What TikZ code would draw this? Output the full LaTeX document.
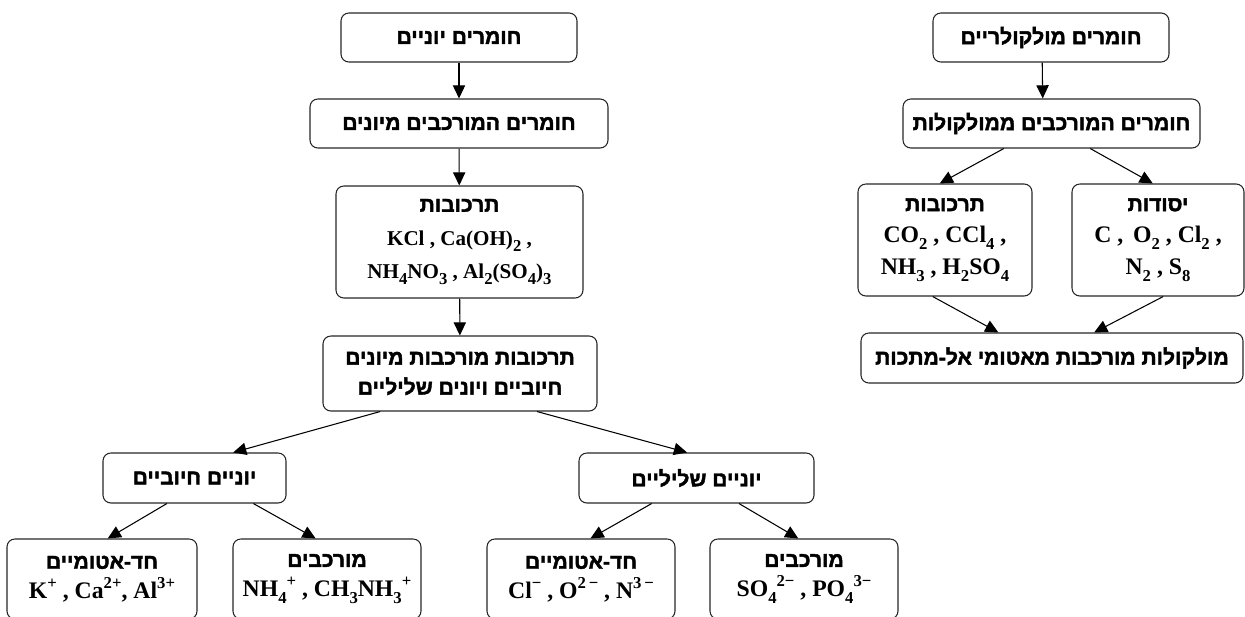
\documentclass[tikz,border=0pt]{standalone}
\usepackage{fontspec}
\setmainfont{Liberation Serif}
\newfontfamily\hebfont[Script=Hebrew, FakeBold=2]{Liberation Sans}
\TeXXeTstate=1
\newcommand{\hebr}[1]{{\hebfont\fontsize{12}{17}\selectfont\beginR #1\endR}}
\newcommand{\lo}[1]{\raisebox{-0.3em}{\fontsize{9.5}{9.5}\selectfont #1}}
\newcommand{\hi}[1]{\raisebox{0.42em}{\fontsize{9.5}{9.5}\selectfont #1}}
\usetikzlibrary{arrows.meta,calc}

\begin{document}
\begin{tikzpicture}[x=0.02cm, y=-0.02cm,
  box/.style={draw=black!85, line width=0.6pt, rounded corners=4.5pt, align=center, inner sep=0pt, font=\fontsize{13.5}{17}\selectfont\bfseries},
  dims/.style 2 args={minimum width=#1*0.02cm, minimum height=#2*0.02cm},
  arr/.style={-{Triangle[width=7pt,length=7.5pt]}, line width=0.6pt}]
\clip (0,0) rectangle (1245,616);

% ionic side
\node[box, dims={236}{49}] (ionic) at (459, 37.5) {\hebr{חומרים יוניים}};
\node[box, dims={298}{49}] (ionparts) at (459, 123.5) {\hebr{חומרים המורכבים מיונים}};
\node[box, dims={247}{112}, font=\fontsize{12}{17}\selectfont\bfseries] (ioncomp) at (459.5, 242) {\hebr{תרכובות}\\[2pt]
  KCl , Ca(OH)\lo{2} ,\\[2pt]
  NH\lo{4}NO\lo{3} , Al\lo{2}(SO\lo{4})\lo{3}};
\node[box, dims={274}{75}] (ionmix) at (460, 373.5) {\hebr{תרכובות מורכבות מיונים}\\\hebr{חיוביים ויונים שליליים}};
\node[box, dims={183}{50}] (cations) at (194.5, 478) {\hebr{יוניים חיוביים}};
\node[box, dims={235}{50}] (anions) at (696.5, 478) {\hebr{יוניים שליליים}};
\node[box, dims={190}{80}] (catmono) at (102, 579) {\hebr{חד-אטומיים}\\
  K\hi{+} , Ca\hi{2+}, Al\hi{3+}};
\node[box, dims={188}{80}] (catpoly) at (327, 579) {\hebr{מורכבים}\\
  NH\lo{4}\hi{+} , CH\lo{3}NH\lo{3}\hi{+}};
\node[box, dims={188}{80}] (anmono) at (581, 579) {\hebr{חד-אטומיים}\\
  Cl\hi{−} , O\hi{2\,−} , N\hi{3\,−}};
\node[box, dims={188}{80}] (anpoly) at (804, 579) {\hebr{מורכבים}\\
  SO\lo{4}\hi{2−} , PO\lo{4}\hi{3−}};

% molecular side
\node[box, dims={236}{49}] (molec) at (1051, 37.5) {\hebr{חומרים מולקולריים}};
\node[box, dims={297}{49}] (molparts) at (1051.5, 123.5) {\hebr{חומרים המורכבים ממולקולות}};
\node[box, dims={174}{112}] (molcomp) at (945, 240) {\hebr{תרכובות}\\[1pt]
  CO\lo{2} , CCl\lo{4} ,\\[1pt]
  NH\lo{3} , H\lo{2}SO\lo{4}};
\node[box, dims={172}{112}] (molelem) at (1158, 240) {\hebr{יסודות}\\[1pt]
  C ,\, O\lo{2} , Cl\lo{2} ,\\[1pt]
  N\lo{2} , S\lo{8}};
\node[box, dims={382}{50}] (nonmetal) at (1052, 358) {\hebr{מולקולות מורכבות מאטומי אל-מתכות}};

\draw[arr] (ionic) -- (ionparts);
\draw[arr] (ionparts) -- (ioncomp);
\draw[arr] (ioncomp) -- (ionmix);
\draw[arr] ($(ionmix.south west)!.21!(ionmix.south east)$) -- ($(cations.north west)!.71!(cations.north east)$);
\draw[arr] ($(ionmix.south west)!.78!(ionmix.south east)$) -- ($(anions.north west)!.46!(anions.north east)$);
\draw[arr] ($(cations.south west)!.35!(cations.south east)$) -- ($(catmono.north west)!.53!(catmono.north east)$);
\draw[arr] ($(cations.south west)!.82!(cations.south east)$) -- ($(catpoly.north west)!.44!(catpoly.north east)$);
\draw[arr] ($(anions.south west)!.31!(anions.south east)$) -- ($(anmono.north west)!.55!(anmono.north east)$);
\draw[arr] ($(anions.south west)!.68!(anions.south east)$) -- ($(anpoly.north west)!.47!(anpoly.north east)$);

\draw[arr] ([xshift=-5pt]molec.south) -- ([xshift=-5pt]molparts.north);
\draw[arr] ($(molparts.south west)!.34!(molparts.south east)$) -- ($(molcomp.north west)!.47!(molcomp.north east)$);
\draw[arr] ($(molparts.south west)!.63!(molparts.south east)$) -- ($(molelem.north west)!.47!(molelem.north east)$);
\draw[arr] ($(molcomp.south west)!.43!(molcomp.south east)$) -- ($(nonmetal.north west)!.36!(nonmetal.north east)$);
\draw[arr] ($(molelem.south west)!.53!(molelem.south east)$) -- ($(nonmetal.north west)!.61!(nonmetal.north east)$);
\end{tikzpicture}
\end{document}
